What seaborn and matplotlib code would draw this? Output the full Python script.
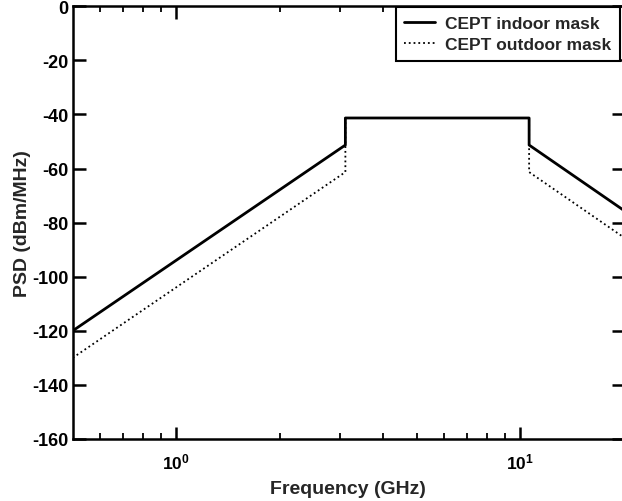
import matplotlib
matplotlib.use("Agg")
import matplotlib.pyplot as plt
from matplotlib.ticker import NullFormatter, FixedLocator
import seaborn as sns
import pandas as pd

# Data
freq_ghz = [0.5, 3.1, 3.1, 10.6, 10.6, 20.0]
psd_indoor = [-120.0, -51.3, -41.3, -41.3, -51.3, -75.5]
psd_outdoor = [-130.0, -61.3, -41.3, -41.3, -61.3, -85.5]
series_names = ["CEPT indoor mask", "CEPT outdoor mask"]
y_ticks = [0, -20, -40, -60, -80, -100, -120, -140, -160]
x_ticks = [1, 10]
x_ticklabels = ["$10^{0}$", "$10^{1}$"]
x_minor_ticks = [0.6, 0.7, 0.8, 0.9, 2, 3, 4, 5, 6, 7, 8, 9, 20]

sns.set_style("ticks")
plt.rcParams["font.family"] = ["Liberation Sans", "DejaVu Sans"]
plt.rcParams["font.weight"] = "bold"
plt.rcParams["axes.unicode_minus"] = False
plt.rcParams["mathtext.fontset"] = "custom"
plt.rcParams["mathtext.rm"] = "Liberation Sans:bold"
plt.rcParams["mathtext.it"] = "Liberation Sans:bold"
plt.rcParams["mathtext.bf"] = "Liberation Sans:bold"
plt.rcParams["xtick.minor.visible"] = True
plt.rcParams["xtick.minor.size"] = 4.5
plt.rcParams["xtick.minor.width"] = 1.3

df_in = pd.DataFrame({"freq": freq_ghz, "psd": psd_indoor})
df_out = pd.DataFrame({"freq": freq_ghz, "psd": psd_outdoor})

fig = plt.figure(figsize=(6.22, 5.02), dpi=100)
ax = fig.add_axes([72.7 / 622, 1 - 440 / 502, (624 - 72.7) / 622, (440 - 7.3) / 502])

sns.lineplot(data=df_in, x="freq", y="psd", estimator=None, sort=False,
             color="black", linewidth=2.0, label=series_names[0], ax=ax)
sns.lineplot(data=df_out, x="freq", y="psd", estimator=None, sort=False,
             color="black", linewidth=1.3, linestyle=":", label=series_names[1], ax=ax)

ax.set_xscale("log")
ax.set_xlim(0.5, 20)
ax.set_ylim(-160, 0)
ax.set_yticks(y_ticks)
ax.set_yticklabels([str(v) for v in y_ticks])
ax.xaxis.set_major_locator(FixedLocator(x_ticks))
ax.set_xticklabels(x_ticklabels)
ax.xaxis.set_minor_locator(FixedLocator(x_minor_ticks))
ax.xaxis.set_minor_formatter(NullFormatter())

for s in ax.spines.values():
    s.set_linewidth(1.8)
    s.set_color("black")

ax.tick_params(axis="both", which="major", direction="in", length=9, width=1.8,
               top=True, right=True, labelsize=13, pad=3, colors="black")
ax.tick_params(axis="x", which="major", labelsize=12.5, pad=9)
ax.tick_params(axis="x", which="minor", direction="in", length=4.5, width=1.3,
               top=True, bottom=True, color="black")
for lab in ax.get_yticklabels():
    lab.set_fontweight("bold")

ax.set_xlabel("Frequency (GHz)", fontsize=14, fontweight="bold", labelpad=6)
ax.set_ylabel("PSD (dBm/MHz)", fontsize=14, fontweight="bold", labelpad=1)

leg = ax.legend(loc="upper right", bbox_to_anchor=(620 / 622, 1 - 8 / 502),
                bbox_transform=fig.transFigure, borderaxespad=0,
                frameon=True, fancybox=False, framealpha=1, edgecolor="black",
                prop={"weight": "bold", "size": 12.5}, handlelength=1.75,
                borderpad=0.5, labelspacing=0.35, handletextpad=0.6)
leg.get_frame().set_linewidth(1.5)

fig.savefig("out.png", dpi=100)
